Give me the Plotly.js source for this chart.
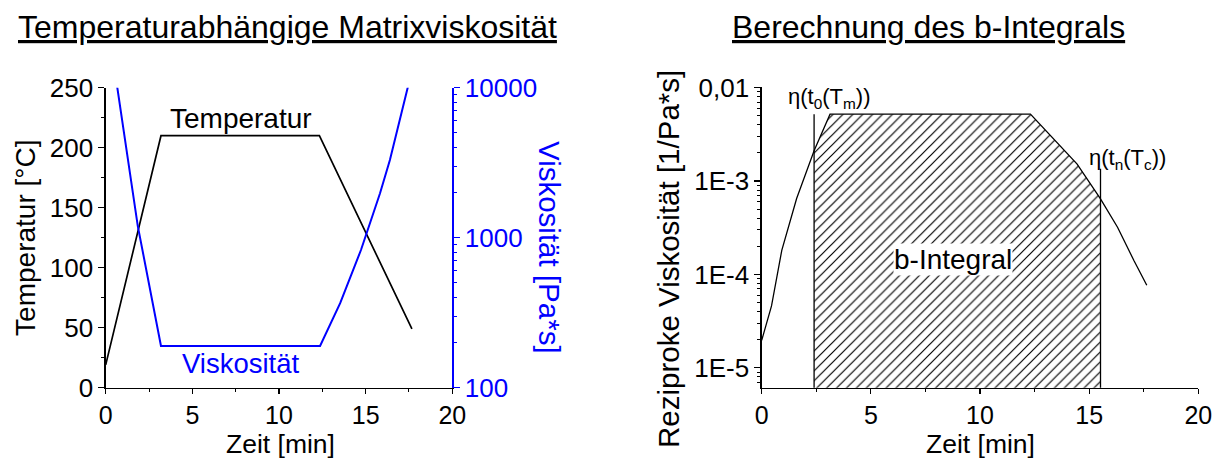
<!DOCTYPE html>
<html>
<head>
<meta charset="utf-8">
<script src="https://cdn.plot.ly/plotly-3.0.1.min.js"></script>
<style>html,body{margin:0;padding:0;background:#fff;}#chart{width:1215px;height:459px;}</style>
</head>
<body>
<div id="chart"></div>
<script>
// ---- data ----
const tempTime = [0, 3.19, 12.33, 17.67];
const temperature = [19, 210, 210, 49];           // °C

const viscTime = [0, 0.67, 1.85, 2.46, 3.19, 12.37, 13.53, 14.73, 14.96, 15.83, 16.40, 17.43, 17.64];
const viscosity = [40000, 10000, 1200, 525, 190, 190, 366, 828, 1000, 1977, 3296, 10000, 12600]; // Pa*s

const recipTime = [0, 0.45, 0.92, 1.6, 2.40, 2.8, 3.13, 12.31, 13.53, 14.45, 15.52, 16.3, 17.05, 17.64];
const reciprocal = [1.97e-5, 4.6e-5, 1.81e-4, 6.5e-4, 2.11e-3, 3.5e-3, 5.2e-3, 5.2e-3, 2.59e-3, 1.52e-3, 6.45e-4, 3.2e-4, 1.41e-4, 7.66e-5]; // 1/Pa*s

const integralStart = 2.40;   // t0(Tm)
const integralEnd = 15.52;    // tn(Tc)
const markerTops = [5.2e-3, 1.35e-3];
const axisFloor = 1e-6;

const xTicks = [0, 5, 10, 15, 20];
const xTickText = ['0', '5', '10', '15', '20'];
const tempTicks = [0, 50, 100, 150, 200, 250];
const viscTicks = [100, 1000, 10000];
const viscTickText = ['100', '1000', '10000'];
const viscMinor = [200, 300, 400, 500, 600, 700, 800, 900, 2000, 3000, 4000, 5000, 6000, 7000, 8000, 9000];
const recipTicks = [1e-5, 1e-4, 1e-3, 1e-2];
const recipTickText = ['1E-5', '1E-4', '1E-3', '0,01'];
const recipMinor = [7e-6, 8e-6, 9e-6,
  2e-5, 3e-5, 4e-5, 5e-5, 6e-5, 7e-5, 8e-5, 9e-5,
  2e-4, 3e-4, 4e-4, 5e-4, 6e-4, 7e-4, 8e-4, 9e-4,
  2e-3, 3e-3, 4e-3, 5e-3, 6e-3, 7e-3, 8e-3, 9e-3];

// hatched b-integral region built from the curve
const iA = recipTime.indexOf(integralStart), iB = recipTime.indexOf(integralEnd);
const fillX = recipTime.slice(iA, iB + 1).concat([integralEnd, integralStart]);
const fillY = reciprocal.slice(iA, iB + 1).concat([axisFloor, axisFloor]);

const W = 1215, H = 459;
const FONT = 'Liberation Sans, Arial, Helvetica, sans-serif';
const BLUE = '#0000ff';

const traces = [
  {x: tempTime, y: temperature, xaxis: 'x', yaxis: 'y', mode: 'lines', line: {color: 'black', width: 1.7}, hoverinfo: 'skip'},
  {x: viscTime, y: viscosity, xaxis: 'x', yaxis: 'y2', mode: 'lines', line: {color: BLUE, width: 2}, hoverinfo: 'skip'},
  {x: fillX, y: fillY, xaxis: 'x2', yaxis: 'y3', mode: 'lines', line: {width: 0, color: 'rgba(0,0,0,0)'}, fill: 'toself',
   fillcolor: 'white', fillpattern: {shape: '/', size: 7, solidity: 0.17, fgcolor: 'black', bgcolor: 'white'}, hoverinfo: 'skip'},
  {x: recipTime, y: reciprocal, xaxis: 'x2', yaxis: 'y3', mode: 'lines', line: {color: 'black', width: 1.3}, hoverinfo: 'skip'},
  {x: [integralStart, integralStart], y: [axisFloor, markerTops[0]], xaxis: 'x2', yaxis: 'y3', mode: 'lines', line: {color: 'black', width: 1.3}, hoverinfo: 'skip'},
  {x: [integralEnd, integralEnd], y: [axisFloor, markerTops[1]], xaxis: 'x2', yaxis: 'y3', mode: 'lines', line: {color: 'black', width: 1.3}, hoverinfo: 'skip'}
];

const tickFont = {family: FONT, size: 26, color: 'black'};
const px2x = p => p / W;
const px2y = p => 1 - p / H;

const commonX = {
  range: [0, 20], tickvals: xTicks, ticktext: xTickText, showgrid: false, zeroline: false,
  showline: true, linecolor: 'black', linewidth: 1.3, ticks: 'outside', ticklen: 5, tickwidth: 1.2, tickcolor: 'black',
  minor: {dtick: 2.5, ticks: 'outside', ticklen: 3, tickwidth: 1, tickcolor: 'black', showgrid: false},
  tickfont: {family: FONT, size: 25, color: 'black'}, automargin: false, fixedrange: true
};

const layout = {
  width: W, height: H, margin: {l: 0, r: 0, t: 0, b: 0}, showlegend: false,
  paper_bgcolor: 'white', plot_bgcolor: 'rgba(0,0,0,0)', font: {family: FONT, color: 'black'},
  xaxis: Object.assign({}, commonX, {domain: [px2x(105.7), px2x(452.3)], anchor: 'y'}),
  yaxis: {domain: [px2y(387.7), px2y(87.7)], anchor: 'x', range: [0, 250], tickvals: tempTicks,
    showgrid: false, zeroline: false, showline: true, linecolor: 'black', linewidth: 1.3,
    ticks: 'outside', ticklen: 6, tickwidth: 1.2, tickcolor: 'black',
    minor: {dtick: 25, ticks: 'outside', ticklen: 3, tickwidth: 1, tickcolor: 'black', showgrid: false},
    tickfont: tickFont, automargin: false, fixedrange: true,
    title: {text: 'Temperatur [°C]', font: {family: FONT, size: 28, color: 'black'}, standoff: 6}},
  yaxis2: {overlaying: 'y', side: 'right', anchor: 'x', type: 'log', range: [2, 4],
    tickvals: viscTicks, ticktext: viscTickText, showgrid: false, zeroline: false,
    showline: true, linecolor: BLUE, linewidth: 1.3, ticks: 'outside', ticklen: 6, tickwidth: 1.2, tickcolor: BLUE,
    minor: {tickvals: viscMinor, ticks: 'outside', ticklen: 3, tickwidth: 1, tickcolor: BLUE, showgrid: false},
    tickfont: {family: FONT, size: 26, color: BLUE}, automargin: false, fixedrange: true},
  xaxis2: Object.assign({}, commonX, {domain: [px2x(761.7), px2x(1198.3)], anchor: 'y3'}),
  yaxis3: {domain: [px2y(387.7), px2y(86.7)], anchor: 'x2', type: 'log', range: [-5.213, -1.99],
    tickvals: recipTicks, ticktext: recipTickText, showgrid: false, zeroline: false,
    showline: true, linecolor: 'black', linewidth: 1.3, ticks: 'outside', ticklen: 6, tickwidth: 1.2, tickcolor: 'black',
    minor: {tickvals: recipMinor, ticks: 'outside', ticklen: 3, tickwidth: 1, tickcolor: 'black', showgrid: false},
    tickfont: tickFont, automargin: false, fixedrange: true},
  annotations: [
    {xref: 'paper', yref: 'paper', x: px2x(287), y: px2y(27), text: '<u>Temperaturabhängige Matrixviskosität</u>',
     showarrow: false, font: {family: FONT, size: 32, color: 'black'}, xanchor: 'center', yanchor: 'middle'},
    {xref: 'paper', yref: 'paper', x: px2x(928), y: px2y(27), text: '<u>Berechnung des b-Integrals</u>',
     showarrow: false, font: {family: FONT, size: 32, color: 'black'}, xanchor: 'center', yanchor: 'middle'},
    {xref: 'paper', yref: 'paper', x: px2x(280), y: px2y(444), text: 'Zeit [min]',
     showarrow: false, font: {family: FONT, size: 26.5, color: 'black'}, xanchor: 'center', yanchor: 'middle', borderpad: 0},
    {xref: 'paper', yref: 'paper', x: px2x(980), y: px2y(444), text: 'Zeit [min]',
     showarrow: false, font: {family: FONT, size: 26.5, color: 'black'}, xanchor: 'center', yanchor: 'middle', borderpad: 0},
    {xref: 'paper', yref: 'paper', x: px2x(550), y: px2y(247), text: 'Viskosität [Pa*s]', textangle: 90,
     showarrow: false, font: {family: FONT, size: 29.5, color: BLUE}, xanchor: 'center', yanchor: 'middle'},
    {xref: 'paper', yref: 'paper', x: px2x(668), y: px2y(259), text: 'Reziproke Viskosität [1/Pa*s]', textangle: -90,
     showarrow: false, font: {family: FONT, size: 29.5, color: 'black'}, xanchor: 'center', yanchor: 'middle'},
    {xref: 'x', yref: 'y', x: 7.78, y: 224, text: 'Temperatur', showarrow: false,
     font: {family: FONT, size: 28, color: 'black'}},
    {xref: 'x', yref: 'y', x: 7.8, y: 19.8, text: 'Viskosität', showarrow: false,
     font: {family: FONT, size: 27.5, color: BLUE}},
    {xref: 'x2', yref: 'y3', x: 8.78, y: -3.839, text: 'b-Integral', showarrow: false, bgcolor: 'white', borderpad: 0,
     font: {family: FONT, size: 28, color: 'black'}},
    {xref: 'x2', yref: 'y3', x: 3.09, y: -2.11, text: 'η(t<sub>0</sub>(T<sub>m</sub>))', showarrow: false,
     font: {family: FONT, size: 22, color: 'black'}},
    {xref: 'x2', yref: 'y3', x: 16.76, y: -2.76, text: 'η(t<sub>n</sub>(T<sub>c</sub>))', showarrow: false,
     font: {family: FONT, size: 22, color: 'black'}}
  ]
};

Plotly.newPlot('chart', traces, layout, {staticPlot: true, displayModeBar: false});
</script>
</body>
</html>
